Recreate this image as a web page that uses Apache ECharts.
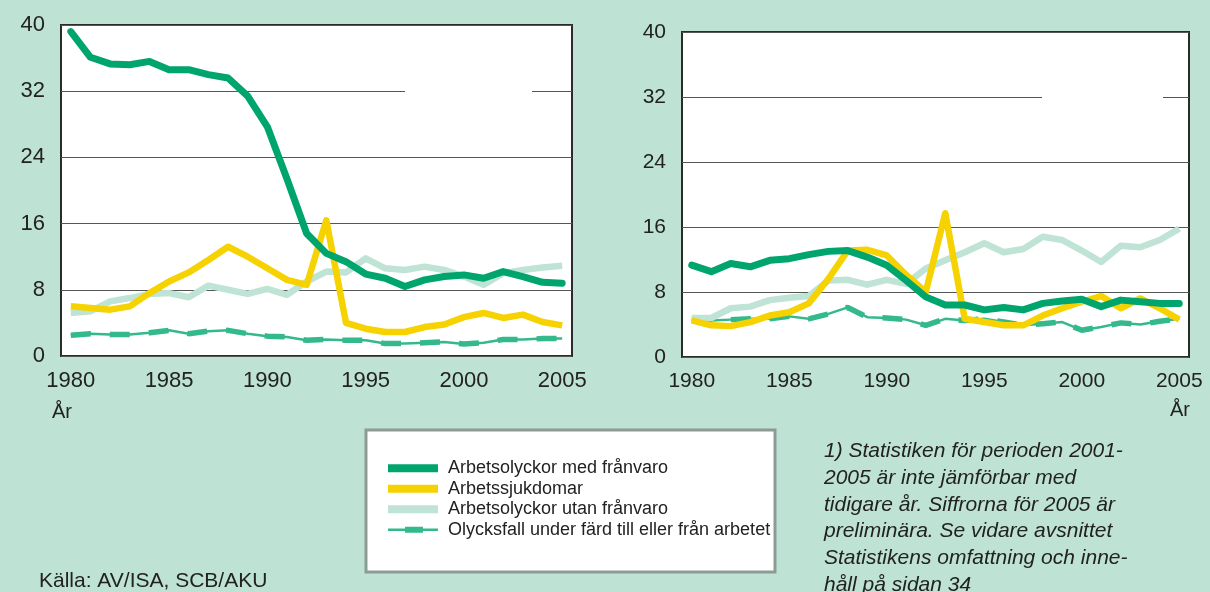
<!DOCTYPE html>
<html>
<head>
<meta charset="utf-8">
<script src="https://cdn.jsdelivr.net/npm/echarts@6/dist/echarts.min.js"></script>
<style>
html, body { margin: 0; padding: 0; background: #bee2d4; }
#chart { width: 1210px; height: 592px; }
</style>
</head>
<body>
<div id="chart"></div>
<script>
const years = ['1980', '1981', '1982', '1983', '1984', '1985', '1986', '1987', '1988', '1989',
  '1990', '1991', '1992', '1993', '1994', '1995', '1996', '1997', '1998', '1999',
  '2000', '2001', '2002', '2003', '2004', '2005'];

const names = [
  'Arbetsolyckor med frånvaro',
  'Arbetssjukdomar',
  'Arbetsolyckor utan frånvaro',
  'Olycksfall under färd till eller från arbetet'
];

// vänster diagram
const medFranvaroL = [39.2, 36.1, 35.3, 35.2, 35.6, 34.6, 34.6, 34.0, 33.6, 31.4, 27.7, 21.4, 14.8,
  12.4, 11.4, 9.9, 9.4, 8.4, 9.2, 9.6, 9.8, 9.4, 10.2, 9.6, 8.9, 8.8];
const sjukdomarL = [6.0, 5.8, 5.6, 6.0, 7.6, 9.0, 10.1, 11.6, 13.2, 12.0, 10.6, 9.2, 8.6,
  16.4, 4.0, 3.3, 2.9, 2.9, 3.5, 3.8, 4.7, 5.2, 4.6, 5.0, 4.1, 3.7];
const utanFranvaroL = [5.2, 5.4, 6.6, 7.0, 7.5, 7.6, 7.1, 8.5, 8.0, 7.5, 8.1, 7.4, 9.0,
  10.2, 10.1, 11.8, 10.6, 10.4, 10.8, 10.4, 9.6, 8.6, 10.0, 10.4, 10.7, 10.9];
const fardL = [2.5, 2.7, 2.6, 2.6, 2.8, 3.1, 2.7, 3.0, 3.1, 2.7, 2.4, 2.3, 1.9,
  2.0, 1.9, 1.9, 1.5, 1.5, 1.6, 1.7, 1.45, 1.6, 2.0, 2.0, 2.1, 2.1];

// höger diagram
const medFranvaroR = [11.3, 10.5, 11.5, 11.1, 11.9, 12.1, 12.6, 13.0, 13.1, 12.3, 11.3, 9.4, 7.4,
  6.4, 6.4, 5.8, 6.1, 5.8, 6.6, 6.9, 7.1, 6.2, 7.0, 6.8, 6.6, 6.6];
const sjukdomarR = [4.5, 3.9, 3.8, 4.3, 5.1, 5.5, 6.6, 9.6, 13.1, 13.2, 12.5, 10.1, 8.0,
  17.7, 4.7, 4.3, 3.9, 3.9, 5.1, 6.0, 6.8, 7.5, 6.0, 7.2, 6.0, 4.6];
const utanFranvaroR = [4.8, 4.8, 6.0, 6.2, 7.0, 7.3, 7.5, 9.4, 9.5, 8.9, 9.5, 9.0, 10.9,
  11.9, 12.9, 14.0, 12.9, 13.3, 14.8, 14.4, 13.1, 11.7, 13.7, 13.5, 14.4, 15.8];
const fardR = [4.6, 4.5, 4.6, 4.7, 4.7, 5.0, 4.7, 5.3, 6.1, 4.9, 4.8, 4.6, 3.9,
  4.7, 4.5, 4.7, 4.3, 3.9, 4.1, 4.3, 3.3, 3.7, 4.2, 4.0, 4.4, 4.7];

const footnote = [
  '1) Statistiken för perioden 2001-',
  '2005 är inte jämförbar med',
  'tidigare år. Siffrorna för 2005 är',
  'preliminära. Se vidare avsnittet',
  'Statistikens omfattning och inne-',
  'håll på sidan 34'
];

const FONT = '"Liberation Sans", Arial, sans-serif';
const colors = ['#00a56d', '#f5d200', '#bfe3d4', '#33b98b'];

function makeSeries(i, green, yellow, light, dashed) {
  const base = { type: 'line', xAxisIndex: i, yAxisIndex: i, symbol: 'none', silent: true };
  return [
    Object.assign({}, base, { name: names[3], data: dashed, color: colors[3], z: 1,
      lineStyle: { width: 2.5, color: colors[3] } }),
    Object.assign({}, base, { name: names[3], data: dashed, color: colors[3], z: 1,
      lineStyle: { width: 5.5, type: [20, 19], color: colors[3] } }),
    Object.assign({}, base, { name: names[2], data: light, color: colors[2], z: 2,
      lineStyle: { width: 6.5, color: colors[2], join: 'round' } }),
    Object.assign({}, base, { name: names[1], data: yellow, color: colors[1], z: 3,
      lineStyle: { width: 6.5, color: colors[1], join: 'round' } }),
    Object.assign({}, base, { name: names[0], data: green, color: colors[0], z: 4,
      lineStyle: { width: 7, color: colors[0], join: 'round', cap: 'round' } })
  ];
}

function xAxis(i, size) {
  return {
    type: 'category', gridIndex: i, data: years, boundaryGap: true,
    axisLine: { show: false }, axisTick: { show: false },
    axisLabel: { interval: function (idx) { return idx % 5 === 0; },
      fontSize: size, color: '#222', fontFamily: FONT, margin: 14 }
  };
}
function yAxis(i, size) {
  return {
    type: 'value', gridIndex: i, min: 0, max: 40, interval: 8,
    axisLine: { show: false }, axisTick: { show: false },
    axisLabel: { fontSize: size, color: '#222', fontFamily: FONT, margin: 16 },
    splitLine: { lineStyle: { color: '#555', width: 1 } }
  };
}

const chart = echarts.init(document.getElementById('chart'));
const option = {
  backgroundColor: '#bee2d4',
  animation: false,
  grid: [
    { left: 61, top: 25, width: 511, height: 331, show: true, backgroundColor: '#fff',
      borderColor: '#2b2b2b', borderWidth: 2 },
    { left: 682, top: 32, width: 507, height: 325, show: true, backgroundColor: '#fff',
      borderColor: '#2b2b2b', borderWidth: 2 }
  ],
  xAxis: [xAxis(0, 22), xAxis(1, 21)],
  yAxis: [yAxis(0, 22), yAxis(1, 21)],
  legend: {
    orient: 'vertical', left: 383, top: 453,
    itemWidth: 50, itemHeight: 8, itemGap: 0,
    selectedMode: false,
    textStyle: { fontSize: 18, color: '#222', fontFamily: FONT, lineHeight: 20.5, padding: [0, 0, 0, 5] },
    data: [
      { name: names[0], icon: 'rect' },
      { name: names[1], icon: 'rect' },
      { name: names[2], icon: 'rect' },
      { name: names[3], icon: 'path://M0,2.8H50V5.2H0Z M17,1H35V7H17Z' }
    ]
  },
  series: makeSeries(0, medFranvaroL, sjukdomarL, utanFranvaroL, fardL)
    .concat(makeSeries(1, medFranvaroR, sjukdomarR, utanFranvaroR, fardR)),
  graphic: [
    { type: 'rect', shape: { x: 366, y: 430, width: 409, height: 142 },
      style: { fill: '#fff', stroke: '#8d9b97', lineWidth: 3 }, z: 0 },
    { type: 'text', left: 52, top: 402, style: { text: 'År', fill: '#222', font: '20px ' + FONT } },
    { type: 'text', left: 1170, top: 400, style: { text: 'År', fill: '#222', font: '20px ' + FONT } },
    { type: 'text', left: 39, top: 571, style: { text: 'Källa: AV/ISA, SCB/AKU', fill: '#222', font: '21px ' + FONT } },
    { type: 'text', left: 824, top: 438, style: { text: footnote.join('\n'), fill: '#222',
      font: 'italic 21px ' + FONT, lineHeight: 26.7 } }
  ]
};
chart.setOption(option);

// avbrott i 32-linjen som i originalet
const y0 = chart.convertToPixel({ yAxisIndex: 0 }, 32);
const y1 = chart.convertToPixel({ yAxisIndex: 1 }, 32);
chart.setOption({
  graphic: option.graphic.concat([
    { type: 'rect', shape: { x: 405, y: y0 - 2, width: 127, height: 4 }, style: { fill: '#fff' }, z: 10 },
    { type: 'rect', shape: { x: 1042, y: y1 - 2, width: 121, height: 4 }, style: { fill: '#fff' }, z: 10 }
  ])
});
</script>
</body>
</html>
